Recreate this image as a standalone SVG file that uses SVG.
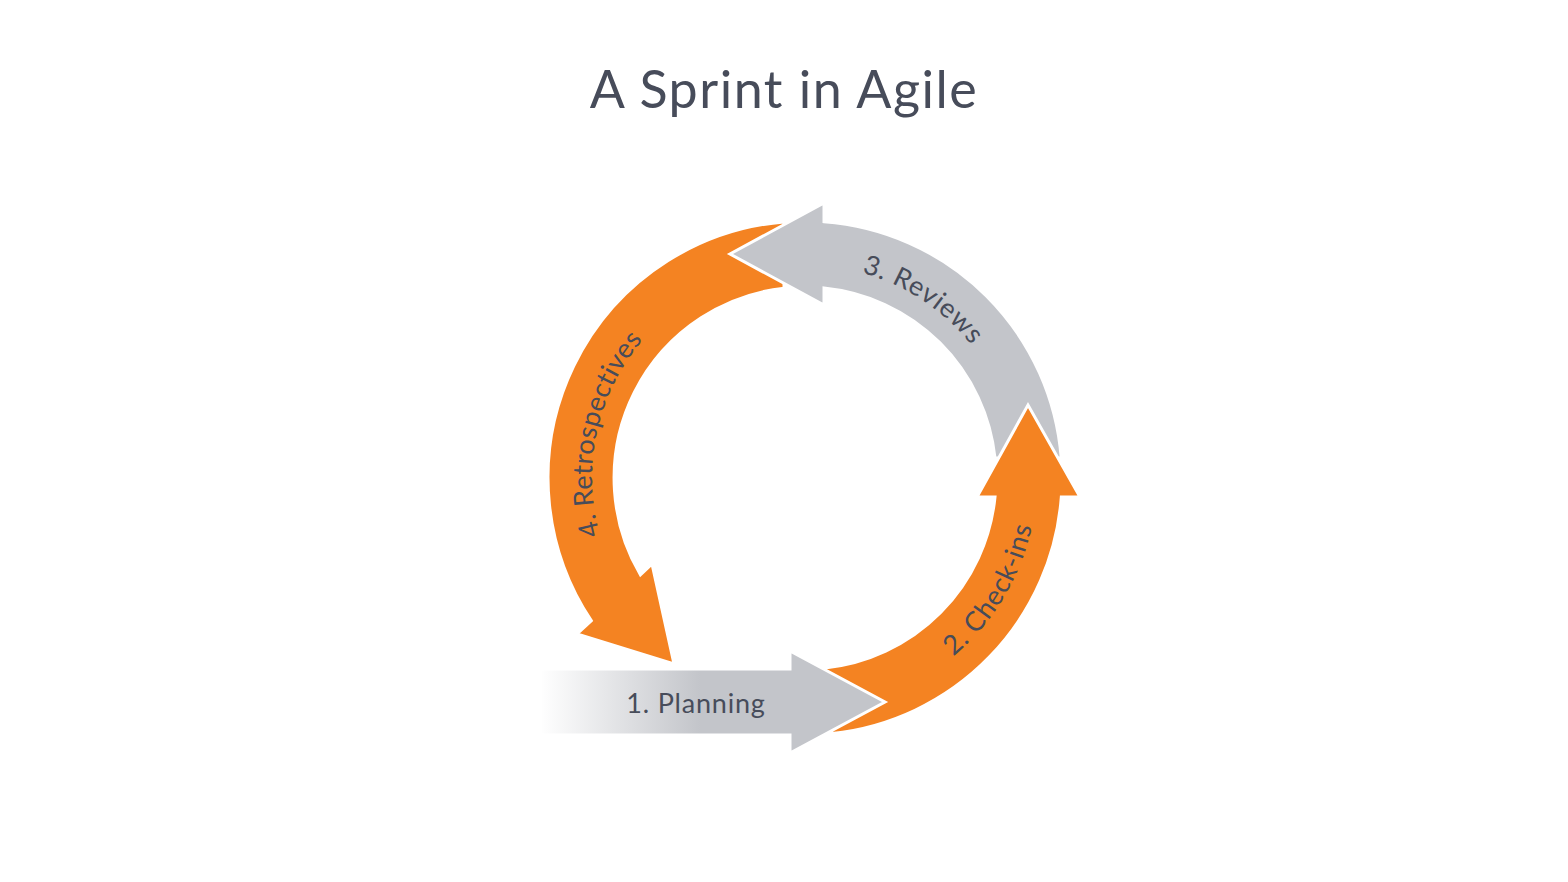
<svg xmlns="http://www.w3.org/2000/svg" width="1568" height="882" viewBox="0 0 1568 882">
  <style>
    .orange { fill: #F48322; stroke: #FFFFFF; stroke-width: 3; stroke-linejoin: miter; }
    .gray { fill: #C3C5CA; stroke: #FFFFFF; stroke-width: 3; stroke-linejoin: miter; }
    .title { font-family: Lato, "Liberation Sans", sans-serif; font-size: 52px; fill: #474C5A; letter-spacing: 1.5px; }
    .label { font-family: Lato, "Liberation Sans", sans-serif; font-size: 27px; fill: #474C5A; letter-spacing: 0.8px; }
    .tight { letter-spacing: 0.3px; }
  </style>
  <defs>
    <linearGradient id="fade" gradientUnits="userSpaceOnUse" x1="540" y1="0" x2="700" y2="0">
      <stop offset="0" stop-color="#C3C5CA" stop-opacity="0"/>
      <stop offset="1" stop-color="#C3C5CA" stop-opacity="1"/>
    </linearGradient>
    <path id="p3" d="M 780.9,266.4 A 213 213 0 0 1 1009.2,417.5"/>
    <path id="p4" d="M 616.1,576.3 A 213 213 0 0 1 675.3,309.0"/>
    <path id="p2" d="M 880.1,697.5 A 232 232 0 0 0 1034.2,442.1"/>
  </defs>
  <rect width="1568" height="882" fill="#FFFFFF"/>
  <text class="title" x="784" y="108" text-anchor="middle">A Sprint in Agile</text>

  <g id="connectors">
    <g id="step4-retrospectives">
      <path class="orange" d="M 784,288.2 L 784,221.9 A 257 257 0 0 0 591.3,620.7 L 577,634 L 674,664 L 652,564 L 640.4,574.8 A 191 191 0 0 1 784,288.2 Z"/>
      <text class="label tight"><textPath href="#p4" startOffset="50%" text-anchor="middle">4. Retrospectives</textPath></text>
    </g>
    <g id="step3-reviews">
      <path class="gray" d="M 995,458 L 1061.2,458 A 257 257 0 0 0 824,221.7 L 824,203 L 730,254 L 824,305 L 824,288 A 191 191 0 0 1 995,458 Z"/>
      <text class="label"><textPath href="#p3" startOffset="50%" text-anchor="middle">3. Reviews</textPath></text>
    </g>
    <g id="step2-checkins">
      <path class="orange" d="M 825,668 L 831.9,733.6 A 257 257 0 0 0 1061.3,497 L 1080,497 L 1028,405 L 977,497 L 995,497 A 191 191 0 0 1 825,668 Z"/>
      <text class="label"><textPath href="#p2" startOffset="50%" text-anchor="middle">2. Check-ins</textPath></text>
    </g>
    <g id="step1-planning">
      <path d="M 540,669 L 790,669 L 790,651 L 885,702 L 790,753 L 790,735 L 540,735 Z" fill="url(#fade)" stroke="#FFFFFF" stroke-width="3" stroke-linejoin="miter"/>
      <text class="label" x="696" y="713" text-anchor="middle">1. Planning</text>
    </g>
  </g>
</svg>
